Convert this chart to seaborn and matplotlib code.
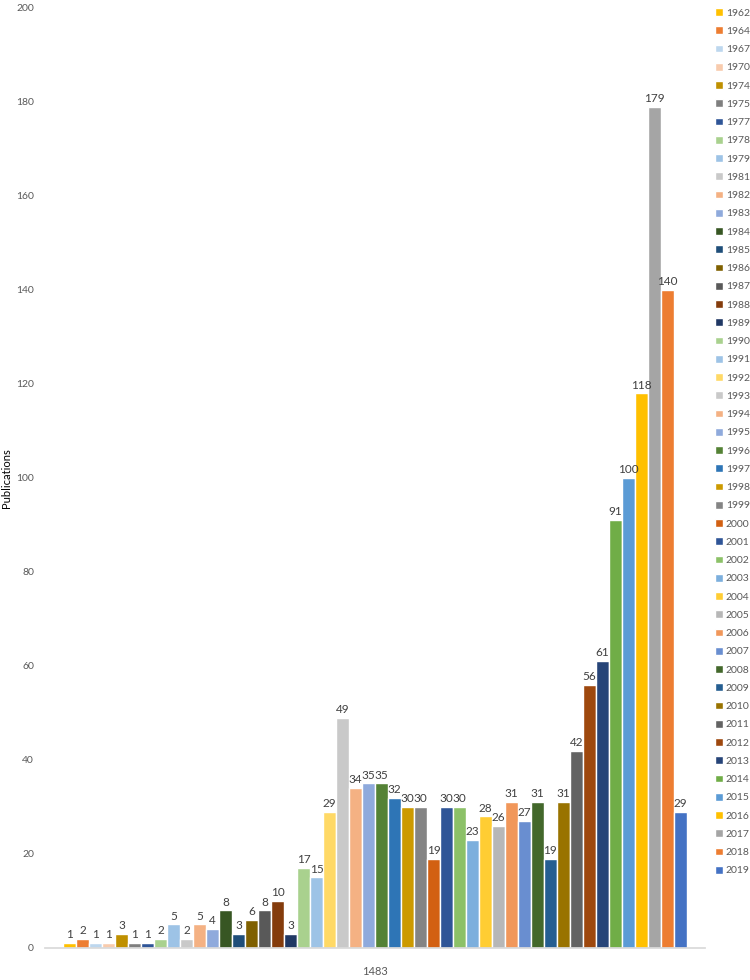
import pandas as pd
import seaborn as sns
from matplotlib import pyplot as plt

years = [
    "1962", "1964", "1967", "1970", "1974", "1975", "1977", "1978", "1979", "1981",
    "1982", "1983", "1984", "1985", "1986", "1987", "1988", "1989", "1990", "1991",
    "1992", "1993", "1994", "1995", "1996", "1997", "1998", "1999", "2000", "2001",
    "2002", "2003", "2004", "2005", "2006", "2007", "2008", "2009", "2010", "2011",
    "2012", "2013", "2014", "2015", "2016", "2017", "2018", "2019",
]
publications = [
    1, 2, 1, 1, 3, 1, 1, 2, 5, 2,
    5, 4, 8, 3, 6, 8, 10, 3, 17, 15,
    29, 49, 34, 35, 35, 32, 30, 30, 19, 30,
    30, 23, 28, 26, 31, 27, 31, 19, 31, 42,
    56, 61, 91, 100, 118, 179, 140, 29,
]
group_label = "1483"

colors = [
    "#FFC000", "#ED7D31", "#BDD7EE", "#F8CBAD", "#BF9000", "#7F7F7F", "#2F5597", "#A9D18E",
    "#9DC3E6", "#C9C9C9", "#F4B183", "#8FAADC", "#375623", "#1F4E79", "#7F6000", "#595959",
    "#843C0C", "#203864", "#A9D18E", "#9DC3E6", "#FFD966", "#C9C9C9", "#F4B183", "#8FAADC",
    "#548235", "#2E75B6", "#CC9A00", "#848484", "#D26012", "#2F5597", "#8CC168", "#7CAFDD",
    "#FFCD33", "#B7B7B7", "#F1975A", "#698ED0", "#43682B", "#255E91", "#997300", "#636363",
    "#9E480E", "#264478", "#70AD47", "#5B9BD5", "#FFC000", "#A5A5A5", "#ED7D31", "#4472C4",
]

df = pd.DataFrame({"Group": group_label, "Year": years, "Publications": publications})

sns.set_theme(style="white")
plt.rcParams["font.family"] = ["Lato", "DejaVu Sans"]

fig = plt.figure(figsize=(7.5, 9.8), dpi=100)
ax = fig.add_axes([0.06, 0.0327, 0.88, 0.9593])

sns.barplot(
    data=df, x="Group", y="Publications", hue="Year", hue_order=years,
    palette=colors, width=0.945, saturation=1, ax=ax, legend=True,
)

# value labels on top of every bar
for container in ax.containers:
    ax.bar_label(container, fontsize=8.5, color="#404040", padding=2)

ax.set_ylim(0, 200)
ax.set_xlim(-0.5, 0.5)
ax.set_yticks(range(0, 201, 20))
ax.tick_params(axis="y", labelsize=7.5, labelcolor="#595959", length=0, pad=8)
ax.tick_params(axis="x", labelsize=8, labelcolor="#595959", length=0, pad=13)
ax.set_xlabel("")
ax.set_ylabel("Publications", fontsize=8, color="#000000", labelpad=3)
for side in ["top", "right", "left"]:
    ax.spines[side].set_visible(False)
ax.spines["bottom"].set_color("#D9D9D9")

handles, labels = ax.get_legend_handles_labels()
ax.get_legend().remove()
fig.legend(
    handles, labels, loc="upper left", bbox_to_anchor=(0.945, 0.998),
    frameon=False, fontsize=7.5, labelcolor="#595959",
    handlelength=0.75, handleheight=0.75, handletextpad=0.3,
    labelspacing=0.845, borderaxespad=0.2,
)

fig.savefig("out.png", dpi=100)
